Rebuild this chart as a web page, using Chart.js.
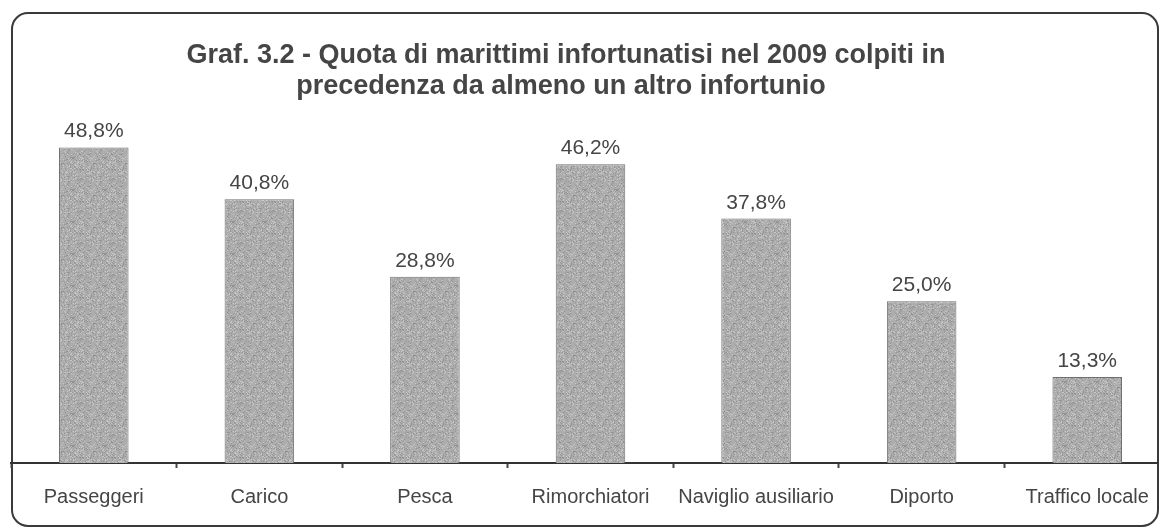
<!DOCTYPE html>
<html>
<head>
<meta charset="utf-8">
<script src="https://cdn.jsdelivr.net/npm/chart.js@4"></script>
<style>
html, body { margin: 0; background: #fff; overflow: hidden; }
</style>
</head>
<body>
<canvas id="chart" width="1170" height="529"></canvas>
<script>
// Data
var categories = ["Passeggeri", "Carico", "Pesca", "Rimorchiatori", "Naviglio ausiliario", "Diporto", "Traffico locale"];
var quota = [48.8, 40.8, 28.8, 46.2, 37.8, 25.0, 13.3];
var titleLines = [
    "Graf. 3.2 - Quota di marittimi infortunatisi nel 2009 colpiti in",
    "precedenza da almeno un altro infortunio"
];

// Options
var config = {
    "textColor": "#454545",
    "barColor": "#acacac",
    "barBorder": "#707070",
    "font": "'Liberation Sans', Arial, sans-serif"
};

// Speckled grey fill, like the printed scan
var makePattern = function(){
    var c = document.createElement("canvas");
    c.width = 32; c.height = 32;
    var g = c.getContext("2d");
    g.fillStyle = config.barColor;
    g.fillRect(0, 0, 32, 32);
    var seed = 12345;
    for(var y = 0; y < 32; y++){
        for(var x = 0; x < 32; x++){
            seed = (Math.imul(seed, 1103515245) + 12345) >>> 0;
            var v = (seed >>> 16) % 7;
            if(v == 0){ g.fillStyle = "#939393"; g.fillRect(x, y, 1, 1); }
            else if(v == 1){ g.fillStyle = "#c6c6c6"; g.fillRect(x, y, 1, 1); }
        }
    }
    return g.createPattern(c, "repeat");
};

// Rounded frame round the whole figure
var framePlugin = {
    id: "frame",
    beforeDraw: function(chart){
        var ctx = chart.ctx;
        ctx.save();
        ctx.strokeStyle = "#3a3a3a";
        ctx.lineWidth = 2;
        ctx.beginPath();
        ctx.roundRect(12, 13, 1146, 513, 16);
        ctx.stroke();
        ctx.restore();
    }
};

// Two-line title, centred as in the original
var titlePlugin = {
    id: "twoLineTitle",
    afterDraw: function(chart){
        var ctx = chart.ctx;
        ctx.save();
        ctx.fillStyle = config.textColor;
        ctx.font = "bold 27px " + config.font;
        ctx.textAlign = "center";
        ctx.textBaseline = "alphabetic";
        ctx.fillText(titleLines[0], 566, 63);
        ctx.fillText(titleLines[1], 561, 94);
        ctx.restore();
    }
};

// Value labels above bars
var valuePlugin = {
    id: "values",
    afterDatasetsDraw: function(chart){
        var ctx = chart.ctx;
        var meta = chart.getDatasetMeta(0);
        ctx.save();
        ctx.fillStyle = config.textColor;
        ctx.font = "21px " + config.font;
        ctx.textAlign = "center";
        ctx.textBaseline = "alphabetic";
        meta.data.forEach(function(bar, i){
            ctx.fillText(quota[i].toFixed(1).replace(".", ",") + "%", bar.x, bar.y - 10);
        });
        ctx.restore();
    }
};

var chartCanvas = document.getElementById("chart");
var chart = new Chart(chartCanvas, {
    type: "bar",
    data: {
        labels: categories,
        datasets: [{
            data: quota,
            backgroundColor: makePattern(),
            borderColor: config.barBorder,
            borderWidth: 1,
            categoryPercentage: 1,
            barPercentage: 0.42
        }]
    },
    options: {
        responsive: false,
        animation: false,
        layout: { padding: { top: 75, left: 11, right: 0, bottom: 3 } },
        plugins: { legend: { display: false }, tooltip: { enabled: false }, title: { display: false } },
        scales: {
            x: {
                grid: { offset: true, drawOnChartArea: false, tickLength: 5, color: "#444", tickWidth: 2 },
                border: { color: "#333", width: 2 },
                ticks: {
                    color: config.textColor, padding: 17, autoSkip: false,
                    maxRotation: 0, minRotation: 0,
                    font: { size: 20, family: config.font }
                }
            },
            y: { display: false, min: 0, max: 60 }
        }
    },
    plugins: [framePlugin, titlePlugin, valuePlugin]
});
</script>
</body>
</html>
